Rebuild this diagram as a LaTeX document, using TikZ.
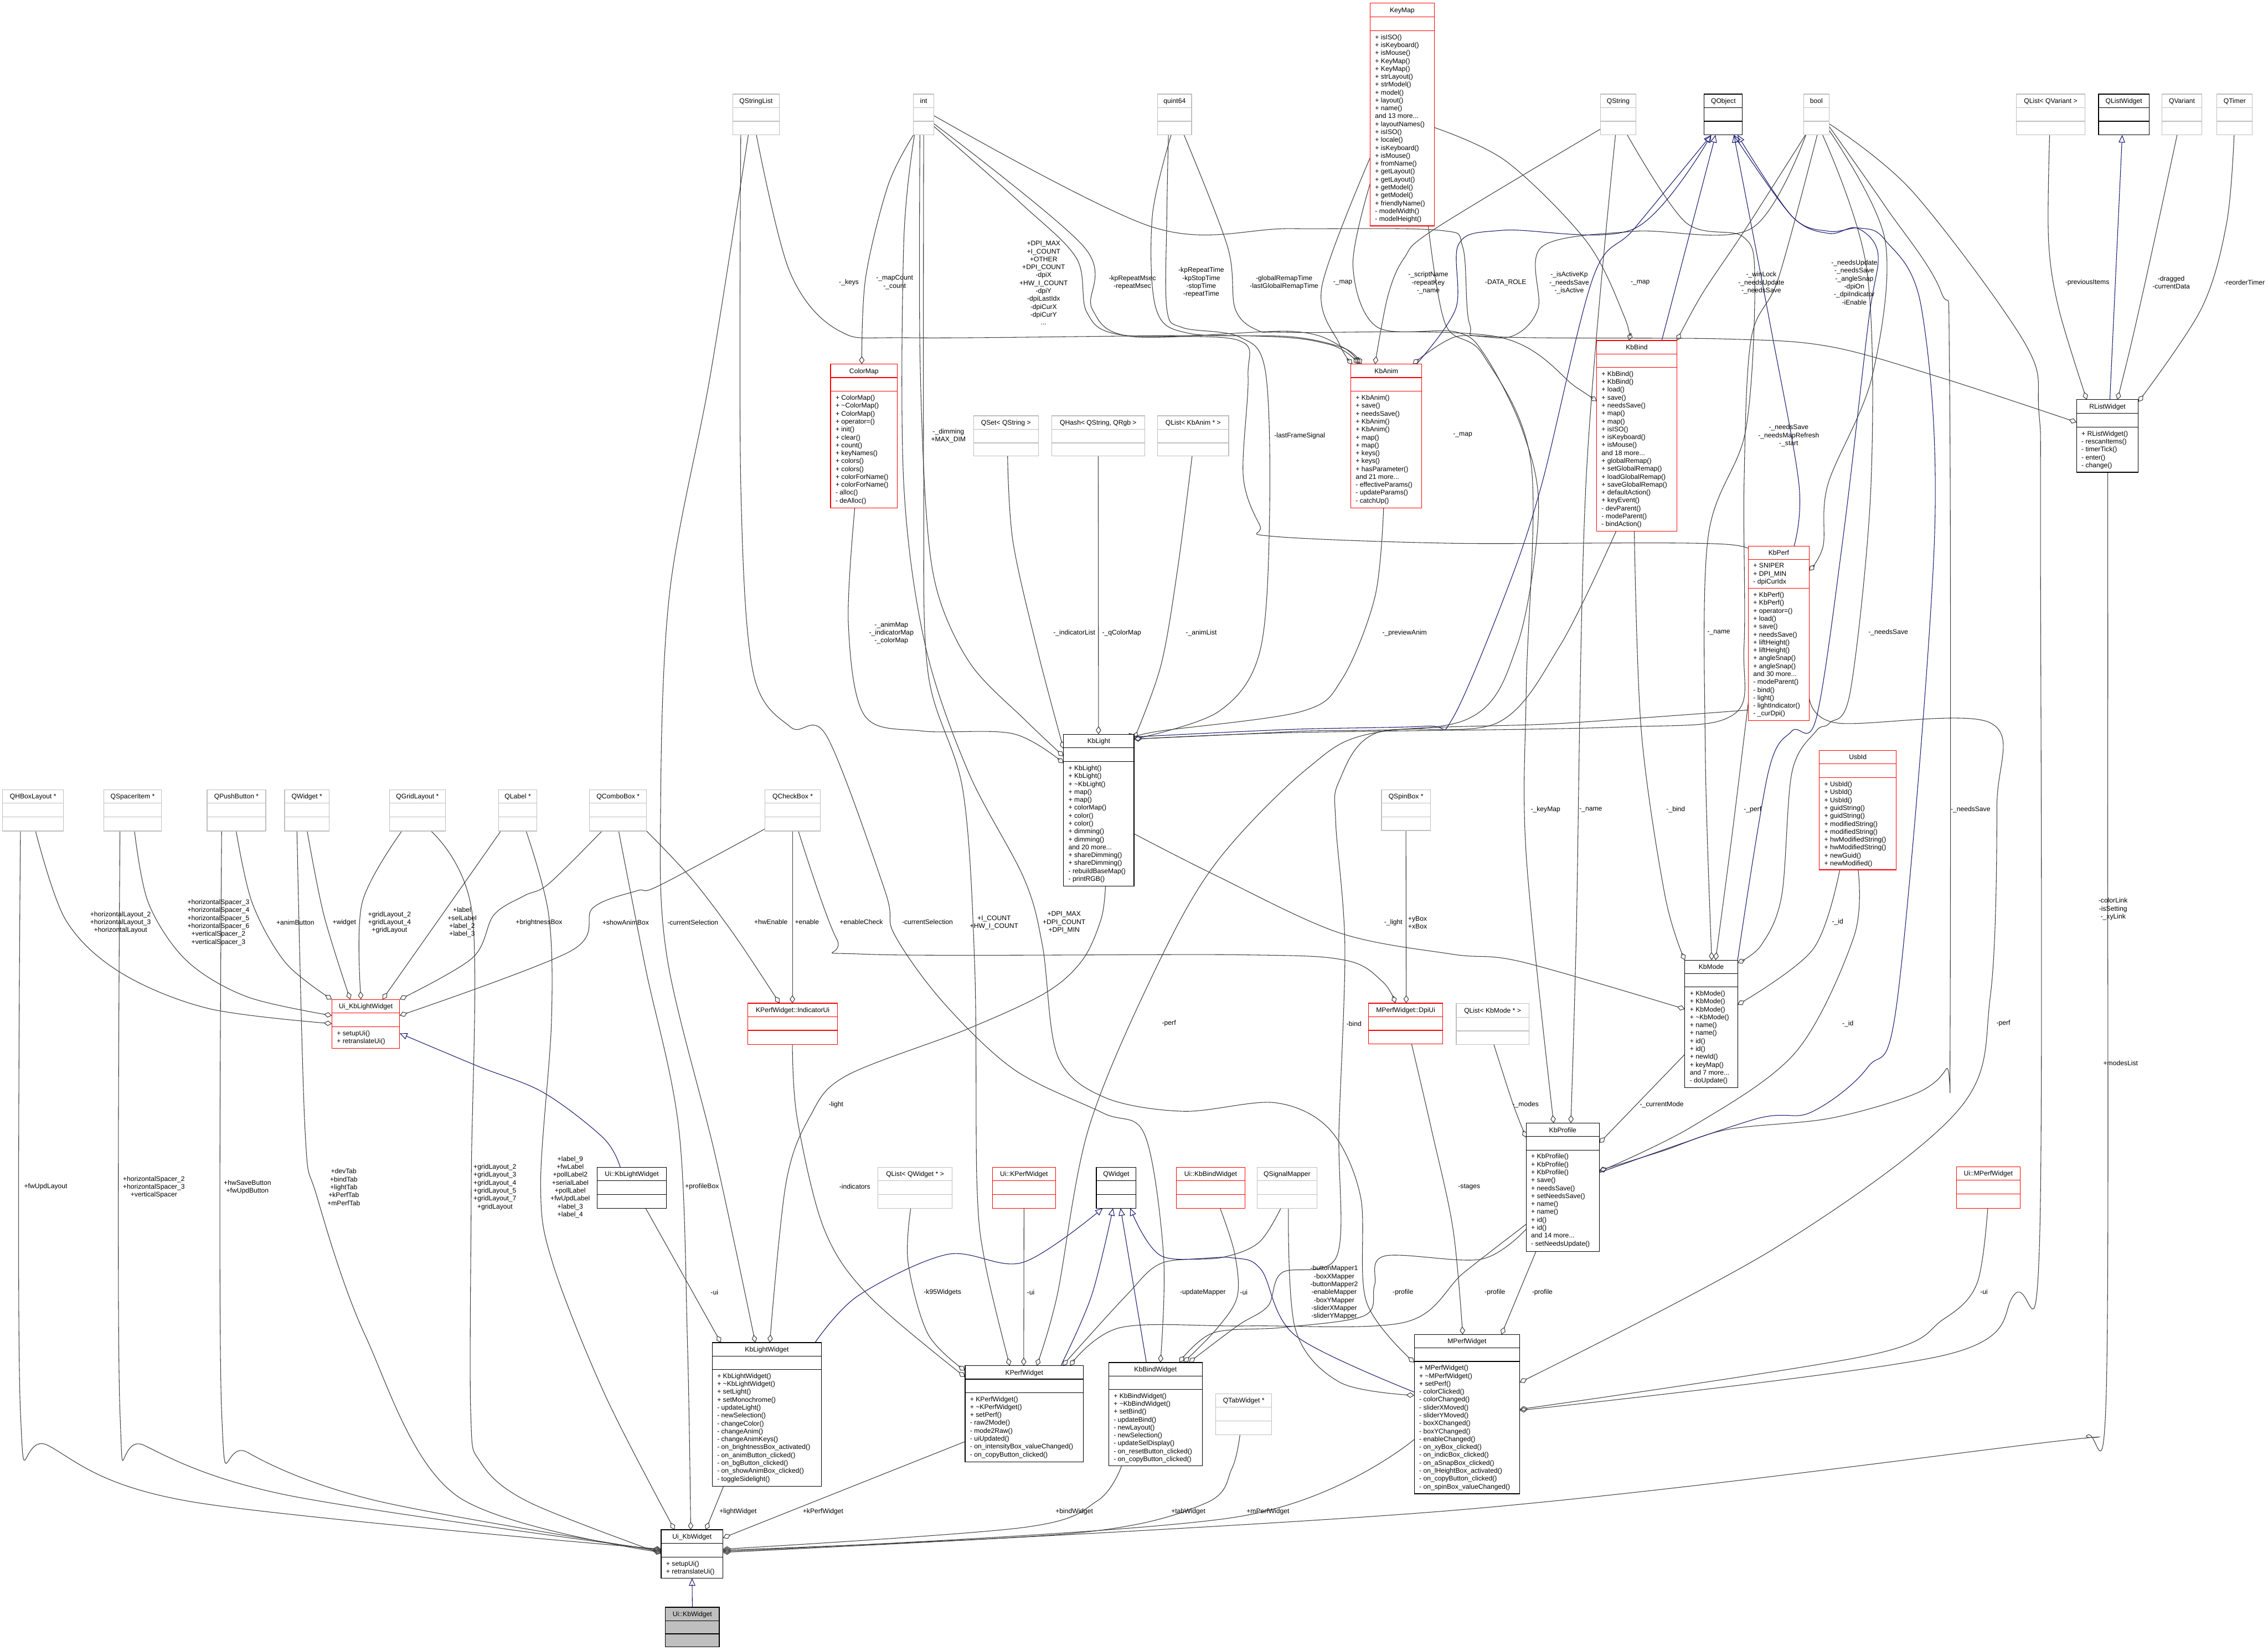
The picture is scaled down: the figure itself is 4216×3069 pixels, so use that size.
\documentclass[tikz,border=0pt]{standalone}
\usepackage{fontspec}
\setmainfont{Liberation Sans}
\usetikzlibrary{arrows.meta,calc}
\definecolor{edgec}{HTML}{404040}
\definecolor{navy}{HTML}{191970}
\definecolor{boxred}{HTML}{FF0000}
\definecolor{boxgray}{HTML}{BFBFBF}
\newcommand\umlfs{\fontsize{12.5}{14.7}\selectfont}
\newcommand\tild{\textasciitilde}
\pgfdeclarelayer{bgl}
\pgfdeclarelayer{edgel}
\pgfsetlayers{bgl,edgel,main}
\tikzset{
  box/.style={draw, fill=white, inner sep=0pt, outer sep=0pt, line width=1.2pt},
  rbox/.style={box, draw=boxred}, rboxline/.style={draw=boxred, line width=1.2pt},
  gbox/.style={box, draw=boxgray}, gboxline/.style={draw=boxgray, line width=1.2pt},
  kbox/.style={box, draw=black}, kboxline/.style={draw=black, line width=1.2pt},
  sbox/.style={box, draw=black, fill=boxgray}, sboxline/.style={draw=black, line width=1.2pt},
  ttl/.style={anchor=base, inner sep=0pt, font=\umlfs},
  mem/.style={anchor=north west, align=left, inner sep=0pt, font=\umlfs},
  lab/.style={align=center, inner sep=0pt, font=\umlfs},
  aggline/.style={draw=edgec, line width=1.1pt, -{Diamond[open, length=15pt, width=10pt]}},
  inhline/.style={draw=navy, line width=1.1pt, -{Triangle[open, length=14pt, width=12pt]}},
}
\newcommand\umlbox[8]{%
  \node[#7, minimum width={#3-#2}, minimum height={#5-#4}, anchor=north west] (#1) at (#2,#4) {};
  \draw[#7line] (#2,#4+25) -- (#3,#4+25);
  \draw[#7line] (#2,#6) -- (#3,#6);
  \node[ttl] (#1-t) at ({(#2+#3)/2},#4+17) {#8};
}
\newcommand\members[4]{\node[mem] (#1) at (#2+9,#3+7) {#4};}
\newcommand\aggr[1]{\draw[aggline] plot[smooth, tension=0.55] coordinates {#1};}
\newcommand\inher[1]{\draw[inhline] plot[smooth, tension=0.55] coordinates {#1};}
\begin{document}
\begin{tikzpicture}[x=1pt, y=-1pt]
\useasboundingbox (0,0) rectangle (4216,3069);
\begin{pgfonlayer}{bgl}\fill[white] (0,0) rectangle (4216,3069);\end{pgfonlayer}

% ---------- boxes ----------
\umlbox{KeyMap}{2547}{2666}{6}{420}{57}{rbox}{KeyMap}
\members{KeyMap-m}{2547}{57}{+ isISO()\\+ isKeyboard()\\+ isMouse()\\+ KeyMap()\\+ KeyMap()\\+ strLayout()\\+ strModel()\\+ model()\\+ layout()\\+ name()\\and 13 more...\\+ layoutNames()\\+ isISO()\\+ locale()\\+ isKeyboard()\\+ isMouse()\\+ fromName()\\+ getLayout()\\+ getLayout()\\+ getModel()\\+ getModel()\\+ friendlyName()\\- modelWidth()\\- modelHeight()}

\umlbox{QStringList}{1362}{1449}{175}{251}{225.5}{gbox}{QStringList}
\umlbox{int}{1698}{1736}{175}{251}{225.5}{gbox}{int}
\umlbox{quint64}{2152}{2215}{175}{251}{225.5}{gbox}{quint64}
\umlbox{QString}{2975}{3041}{175}{251}{225.5}{gbox}{QString}
\umlbox{QObject}{3168}{3239}{175}{251}{225.5}{kbox}{QObject}
\umlbox{bool}{3353}{3400}{175}{251}{225.5}{gbox}{bool}
\umlbox{QListQVariant}{3748}{3876}{175}{251}{225.5}{gbox}{QList< QVariant >}
\umlbox{QListWidget}{3901}{3995}{175}{251}{225.5}{kbox}{QListWidget}
\umlbox{QVariant}{4019}{4093}{175}{251}{225.5}{gbox}{QVariant}
\umlbox{QTimer}{4121}{4187}{175}{251}{225.5}{gbox}{QTimer}

\umlbox{RListWidget}{3860}{3975}{743}{878}{794}{kbox}{RListWidget}
\members{RListWidget-m}{3860}{794}{+ RListWidget()\\- rescanItems()\\- timerTick()\\- enter()\\- change()}

\umlbox{ColorMap}{1544}{1668}{677}{944}{727.5}{rbox}{ColorMap}
\members{ColorMap-m}{1544}{727.5}{+ ColorMap()\\+ \tild ColorMap()\\+ ColorMap()\\+ operator=()\\+ init()\\+ clear()\\+ count()\\+ keyNames()\\+ colors()\\+ colors()\\+ colorForName()\\+ colorForName()\\- alloc()\\- deAlloc()}

\umlbox{QSet}{1810}{1930}{773}{848}{823.5}{gbox}{QSet< QString >}
\umlbox{QHash}{1955}{2128}{773}{848}{823.5}{gbox}{QHash< QString, QRgb >}
\umlbox{QListKbAnim}{2152}{2284}{773}{848}{823.5}{gbox}{QList< KbAnim * >}

\umlbox{KbAnim}{2511}{2643}{677}{944}{727.5}{rbox}{KbAnim}
\members{KbAnim-m}{2511}{727.5}{+ KbAnim()\\+ save()\\+ needsSave()\\+ KbAnim()\\+ KbAnim()\\+ map()\\+ map()\\+ keys()\\+ keys()\\+ hasParameter()\\and 21 more...\\- effectiveParams()\\- updateParams()\\- catchUp()}

\umlbox{KbBind}{2968}{3117}{633}{988}{683}{rbox}{KbBind}
\members{KbBind-m}{2968}{683}{+ KbBind()\\+ KbBind()\\+ load()\\+ save()\\+ needsSave()\\+ map()\\+ map()\\+ isISO()\\+ isKeyboard()\\+ isMouse()\\and 18 more...\\+ globalRemap()\\+ setGlobalRemap()\\+ loadGlobalRemap()\\+ saveGlobalRemap()\\+ defaultAction()\\+ keyEvent()\\- devParent()\\- modeParent()\\- bindAction()}

\umlbox{KbPerf}{3250}{3363}{1015}{1340}{1094}{rbox}{KbPerf}
\members{KbPerf-a}{3250}{1040}{+ SNIPER\\+ DPI\_MIN\\- dpiCurIdx}
\members{KbPerf-m}{3250}{1094}{+ KbPerf()\\+ KbPerf()\\+ operator=()\\+ load()\\+ save()\\+ needsSave()\\+ liftHeight()\\+ liftHeight()\\+ angleSnap()\\+ angleSnap()\\and 30 more...\\- modeParent()\\- bind()\\- light()\\- lightIndicator()\\- \_curDpi()}

\umlbox{UsbId}{3382}{3525}{1395}{1617}{1446}{rbox}{UsbId}
\members{UsbId-m}{3382}{1446}{+ UsbId()\\+ UsbId()\\+ UsbId()\\+ guidString()\\+ guidString()\\+ modifiedString()\\+ modifiedString()\\+ hwModifiedString()\\+ hwModifiedString()\\+ newGuid()\\+ newModified()}

\umlbox{KbLight}{1977}{2108}{1365}{1647}{1416}{kbox}{KbLight}
\members{KbLight-m}{1977}{1416}{+ KbLight()\\+ KbLight()\\+ \tild KbLight()\\+ map()\\+ map()\\+ colorMap()\\+ color()\\+ color()\\+ dimming()\\+ dimming()\\and 20 more...\\+ shareDimming()\\+ shareDimming()\\- rebuildBaseMap()\\- printRGB()}

\umlbox{KbMode}{3132}{3230}{1785}{2022}{1835}{kbox}{KbMode}
\members{KbMode-m}{3132}{1835}{+ KbMode()\\+ KbMode()\\+ KbMode()\\+ \tild KbMode()\\+ name()\\+ name()\\+ id()\\+ id()\\+ newId()\\+ keyMap()\\and 7 more...\\- doUpdate()}

\umlbox{QListKbMode}{2707}{2842}{1866}{1942}{1916.5}{gbox}{QList< KbMode * >}
\umlbox{QSpinBox}{2568}{2659}{1468}{1544}{1518.5}{gbox}{QSpinBox *}
\umlbox{DpiUi}{2544}{2682}{1865}{1941}{1915.5}{rbox}{MPerfWidget::DpiUi}
\umlbox{QCheckBox}{1422}{1525}{1468}{1545}{1518.5}{gbox}{QCheckBox *}
\umlbox{IndicatorUi}{1390}{1557}{1865}{1942}{1915.5}{rbox}{KPerfWidget::IndicatorUi}

\umlbox{QHBoxLayout}{5}{118}{1468}{1545}{1518.5}{gbox}{QHBoxLayout *}
\umlbox{QSpacerItem}{193}{300}{1468}{1545}{1518.5}{gbox}{QSpacerItem *}
\umlbox{QPushButton}{385}{494}{1468}{1545}{1518.5}{gbox}{QPushButton *}
\umlbox{QWidgetPtr}{529}{612}{1468}{1545}{1518.5}{gbox}{QWidget *}
\umlbox{QGridLayout}{724}{828}{1468}{1545}{1518.5}{gbox}{QGridLayout *}
\umlbox{QLabel}{927}{998}{1468}{1545}{1518.5}{gbox}{QLabel *}
\umlbox{QComboBox}{1096}{1202}{1468}{1545}{1518.5}{gbox}{QComboBox *}

\umlbox{UiKbLightWidget}{617}{743}{1858}{1949}{1909}{rbox}{Ui\_KbLightWidget}
\members{UiKbLightWidget-m}{617}{1909}{+ setupUi()\\+ retranslateUi()}

\umlbox{UiNsKbLightWidget}{1110}{1239}{2170}{2246}{2220.5}{kbox}{Ui::KbLightWidget}
\umlbox{QListQWidget}{1632}{1770}{2170}{2246}{2220.5}{gbox}{QList< QWidget * >}
\umlbox{UiNsKPerfWidget}{1845}{1962}{2170}{2246}{2220.5}{rbox}{Ui::KPerfWidget}
\umlbox{QWidget}{2038}{2112}{2170}{2246}{2220.5}{kbox}{QWidget}
\umlbox{UiNsKbBindWidget}{2187}{2314}{2170}{2246}{2220.5}{rbox}{Ui::KbBindWidget}
\umlbox{QSignalMapper}{2337}{2448}{2170}{2246}{2220.5}{gbox}{QSignalMapper}
\umlbox{UiNsMPerfWidget}{3637}{3755}{2169}{2246}{2219.5}{rbox}{Ui::MPerfWidget}

\umlbox{KbProfile}{2837}{2973}{2088}{2327}{2138}{kbox}{KbProfile}
\members{KbProfile-m}{2837}{2138}{+ KbProfile()\\+ KbProfile()\\+ KbProfile()\\+ save()\\+ needsSave()\\+ setNeedsSave()\\+ name()\\+ name()\\+ id()\\+ id()\\and 14 more...\\- setNeedsUpdate()}

\umlbox{KbLightWidget}{1324}{1527}{2496}{2763}{2546}{kbox}{KbLightWidget}
\members{KbLightWidget-m}{1324}{2546}{+ KbLightWidget()\\+ \tild KbLightWidget()\\+ setLight()\\+ setMonochrome()\\- updateLight()\\- newSelection()\\- changeColor()\\- changeAnim()\\- changeAnimKeys()\\- on\_brightnessBox\_activated()\\- on\_animButton\_clicked()\\- on\_bgButton\_clicked()\\- on\_showAnimBox\_clicked()\\- toggleSidelight()}

\umlbox{KPerfWidget}{1794}{2014}{2539}{2718}{2589}{kbox}{KPerfWidget}
\members{KPerfWidget-m}{1794}{2589}{+ KPerfWidget()\\+ \tild KPerfWidget()\\+ setPerf()\\- raw2Mode()\\- mode2Raw()\\- uiUpdated()\\- on\_intensityBox\_valueChanged()\\- on\_copyButton\_clicked()}

\umlbox{KbBindWidget}{2061}{2235}{2533}{2725}{2583}{kbox}{KbBindWidget}
\members{KbBindWidget-m}{2061}{2583}{+ KbBindWidget()\\+ \tild KbBindWidget()\\+ setBind()\\- updateBind()\\- newLayout()\\- newSelection()\\- updateSelDisplay()\\- on\_resetButton\_clicked()\\- on\_copyButton\_clicked()}

\umlbox{QTabWidget}{2260}{2364}{2591}{2667}{2641.5}{gbox}{QTabWidget *}

\umlbox{MPerfWidget}{2629}{2825}{2481}{2777}{2531}{kbox}{MPerfWidget}
\members{MPerfWidget-m}{2629}{2531}{+ MPerfWidget()\\+ \tild MPerfWidget()\\+ setPerf()\\- colorClicked()\\- colorChanged()\\- sliderXMoved()\\- sliderYMoved()\\- boxXChanged()\\- boxYChanged()\\- enableChanged()\\- on\_xyBox\_clicked()\\- on\_indicBox\_clicked()\\- on\_aSnapBox\_clicked()\\- on\_lHeightBox\_activated()\\- on\_copyButton\_clicked()\\- on\_spinBox\_valueChanged()}

\umlbox{UiKbWidget}{1229}{1344}{2844}{2934}{2895}{kbox}{Ui\_KbWidget}
\members{UiKbWidget-m}{1229}{2895}{+ setupUi()\\+ retranslateUi()}
\umlbox{UiNsKbWidget}{1237}{1337}{2988}{3062}{3037.5}{sbox}{Ui::KbWidget}

% ---------- edges ----------
\begin{pgfonlayer}{edgel}
% Ui_KbLightWidget
\aggr{($(QHBoxLayout.north west)+(61,77)$) (122,1710) (224,1808) (388,1875) ($(UiKbLightWidget.north west)+(0,45)$)}
\aggr{($(QSpacerItem.north west)+(57,77)$) (276,1679) (347,1786) (459,1853) ($(UiKbLightWidget.north west)+(0,30)$)}
\aggr{($(QPushButton.north west)+(54,77)$) (469,1679) (531,1790) (UiKbLightWidget.north west)}
\aggr{($(QWidgetPtr.north west)+(42,77)$) (602,1701) ($(UiKbLightWidget.north west)+(34,0)$)}
\aggr{($(QGridLayout.north west)+(23,77)$) (673,1679) ($(UiKbLightWidget.north west)+(54,0)$)}
\aggr{($(QLabel.north west)+(4,77)$) (837,1679) ($(UiKbLightWidget.north west)+(94,0)$)}
\aggr{($(QComboBox.north west)+(23,77)$) (1020,1643) (975,1665) (918,1701) (878,1781) (UiKbLightWidget.north east)}
\aggr{($(QCheckBox.north west)+(0,73)$) (1224,1647) (1184,1656) (1102,1688) (1061,1768) ($(UiKbLightWidget.north east)+(0,30)$)}
\inher{($(UiNsKbLightWidget.north west)+(43,0)$) (1122,2116) (1010,2031) (888,1982) ($(UiKbLightWidget.north east)+(0,63)$)}
% IndicatorUi / DpiUi
\aggr{(QComboBox.south east) (1286,1634) (1367,1741) ($(IndicatorUi.north west)+(59,0)$)}
\aggr{($(QCheckBox.north west)+(51,77)$) ($(IndicatorUi.north west)+(83,0)$)}
\aggr{($(QCheckBox.north west)+(62,77)$) (1555,1745) (1610,1774) (2300,1775) (2500,1785) (2570,1825) ($(DpiUi.north west)+(50,0)$)}
\aggr{(QSpinBox.south) ($(DpiUi.north west)+(70,0)$)}
% KbLightWidget
\aggr{($(UiNsKbLightWidget.north west)+(90,76)$) (1264,2360) ($(KbLightWidget.north west)+(16,0)$)}
\aggr{($(QStringList.north west)+(29,76)$) (1320,700) (1245,1100) (1228,1500) (1240,1780) (1330,2150) ($(KbLightWidget.north west)+(80,0)$)}
\aggr{($(KbLight.north west)+(78,282)$) (2047,1708) (2012,1785) (1943,1846) (1796,1914) (1573,2000) (1506,2075) (1461,2200) ($(KbLightWidget.north west)+(107,0)$)}
\inher{($(KbLightWidget.north west)+(191,0)$) (1595,2409) (1761,2332) (1901,2347) ($(QWidget.north west)+(12,76)$)}
% Ui_KbWidget
\aggr{($(QHBoxLayout.north west)+(33,77)$) (38,2625) (89,2687) (357,2792) ($(UiKbWidget.north west)+(0,36)$)}
\aggr{($(QSpacerItem.north west)+(30,77)$) (223,2625) (268,2687) (536,2780) ($(UiKbWidget.north west)+(0,38)$)}
\aggr{($(QPushButton.north west)+(27,77)$) (412,2625) (460,2700) (700,2790) ($(UiKbWidget.north west)+(0,40)$)}
\aggr{($(QWidgetPtr.north west)+(23,77)$) (567,2100) (589,2224) (679,2483) (848,2780) ($(UiKbWidget.north west)+(0,42)$)}
\aggr{($(QGridLayout.north west)+(77,77)$) (878,1701) (876,2200) (875,2625) (893,2718) (982,2792) ($(UiKbWidget.north west)+(0,44)$)}
\aggr{($(QLabel.north west)+(51,77)$) (1020,1701) (1025,1902) (1005,2200) (1027,2347) (1125,2594) ($(UiKbWidget.north west)+(25,0)$)}
\aggr{($(QComboBox.north west)+(54,77)$) (1200,1800) (1262,2100) (1278,2500) ($(UiKbWidget.north west)+(55,0)$)}
\aggr{($(KbLightWidget.north west)+(21,267)$) ($(UiKbWidget.north west)+(83,0)$)}
\aggr{($(KPerfWidget.north west)+(0,141)$) ($(UiKbWidget.north east)+(0,15)$)}
\aggr{($(KbBindWidget.north west)+(24,192)$) (2040,2790) (1900,2840) ($(UiKbWidget.north east)+(0,36)$)}
\aggr{($(QTabWidget.north west)+(45,76)$) (2290,2730) (2240,2795) (2000,2850) ($(UiKbWidget.north east)+(0,38)$)}
\aggr{($(MPerfWidget.north west)+(0,195)$) (2300,2820) ($(UiKbWidget.north east)+(0,40)$)}
\aggr{($(RListWidget.north west)+(58,135)$) (3918,1500) (3915,2600) (3880,2668) (3800,2682) (2700,2808) ($(UiKbWidget.north east)+(0,42)$)}
\inher{(UiNsKbWidget.north) (UiKbWidget.south)}
% KPerfWidget
\aggr{($(QListQWidget.north west)+(61,76)$) (1688,2347) (1725,2480) ($(KPerfWidget.north west)+(0,9)$)}
\aggr{($(IndicatorUi.north west)+(83,77)$) (1482,2080) (1532,2285) (1615,2409) ($(KPerfWidget.north west)+(0,21)$)}
\aggr{(UiNsKPerfWidget.south) ($(KPerfWidget.north west)+(109,0)$)}
\aggr{($(int.north west)+(19,76)$) (1717,900) (1725,1250) (1790,1470) (1812,1800) (1816,2200) (1831,2347) ($(KPerfWidget.north west)+(83,0)$)}
\aggr{($(KbPerf.north west)+(0,305)$) (2900,1345) (2563,1361) (2431,1428) (2259,1606) (2144,1810) (2023,2100) (1965,2409) ($(KPerfWidget.north west)+(133,0)$)}
\aggr{($(QSignalMapper.north west)+(44,76)$) (2340,2310) (2270,2338) (2160,2348) (2093,2409) ($(KPerfWidget.north west)+(181,0)$)}
\aggr{($(KbProfile.north west)+(0,188)$) (2721,2366) (2612,2458) (2319,2465) (2083,2468) ($(KPerfWidget.north west)+(195,0)$)}
\inher{($(KPerfWidget.north west)+(178,0)$) (2029,2409) ($(QWidget.north west)+(31,76)$)}
% KbBindWidget
\aggr{($(QStringList.north west)+(15,76)$) (1377,900) (1400,1250) (1470,1352) (1537,1369) (1645,1656) (1662,1736) (1752,1862) (1886,1989) (2050,2069) (2128,2110) (2163,2335) ($(KbBindWidget.north west)+(96,0)$)}
\aggr{($(KbBind.north west)+(36,355)$) (2900,1200) (2783,1344) (2560,1362) (2489,1453) (2483,1530) (2500,1760) (2489,2100) (2485,2335) (2383,2366) (2357,2428) (2300,2465) ($(KbBindWidget.north west)+(149,0)$)}
\aggr{($(UiNsKbBindWidget.north west)+(81,76)$) (2295,2330) (2300,2410) (2262,2470) ($(KbBindWidget.north west)+(139,0)$)}
\aggr{($(KbProfile.north west)+(0,197)$) (2753,2341) (2574,2335) (2555,2390) (2536,2446) (2383,2468) (2255,2478) ($(KbBindWidget.north west)+(131,0)$)}
\inher{($(KbBindWidget.north west)+(70,0)$) ($(QWidget.north west)+(45,76)$)}
% MPerfWidget
\inher{($(MPerfWidget.north west)+(0,107)$) (2408,2483) (2344,2360) (2287,2338) (2159,2335) ($(QWidget.north west)+(63,76)$)}
\aggr{($(DpiUi.north west)+(80,76)$) (2661,2100) (2701,2285) ($(MPerfWidget.north west)+(90,0)$)}
\aggr{($(QSignalMapper.north west)+(58,76)$) (2408,2471) (2491,2570) ($(MPerfWidget.north west)+(0,113)$)}
\aggr{($(int.north west)+(2,76)$) (1680,450) (1680,900) (1720,1200) (1800,1435) (1903,1632) (1938,1759) (1966,1963) (2053,2040) (2200,2066) (2370,2050) (2472,2100) (2529,2224) (2540,2420) ($(MPerfWidget.north west)+(0,52)$)}
\aggr{($(KbProfile.north west)+(18,239)$) ($(MPerfWidget.north west)+(162,0)$)}
\aggr{($(KbPerf.north east)+(0,279)$) (3414,1344) (3700,1344) (3712,1500) (3700,1850) (3640,2064) (3300,2320) ($(MPerfWidget.north east)+(0,89)$)}
\aggr{($(UiNsMPerfWidget.north west)+(58,77)$) (3675,2386) (3612,2453) (3472,2520) ($(MPerfWidget.north east)+(0,139)$)}
\aggr{($(bool.north east)+(0,55)$) (3556,357) (3764,638) (3790,765) (3793,1000) (3791,2319) (3745,2406) (3612,2520) ($(MPerfWidget.north east)+(0,141)$)}
% KbProfile
\aggr{($(KbMode.north west)+(0,175)$) ($(KbProfile.north east)+(0,37)$)}
\aggr{($(QListKbMode.north west)+(70,76)$) (2812,2051) ($(KbProfile.north west)+(0,27)$)}
\aggr{($(UsbId.north west)+(72,222)$) (3446,1742) (3338,1956) (3146,2094) ($(KbProfile.north east)+(0,90)$)}
\aggr{($(KeyMap.north west)+(108,414)$) (2687,603) (2757,660) (2846,861) (2837,1283) (2837,1589) ($(KbProfile.north west)+(51,0)$)}
\aggr{($(QString.north west)+(28,76)$) (2948,900) (2930,1742) ($(KbProfile.north west)+(83,0)$)}
\aggr{($(bool.north east)+(0,60)$) (3504,383) (3608,542) (3624,702) (3625,1933) (3618,1987) (3561,2033) (3402,2079) (3210,2100) (3090,2140) ($(KbProfile.north east)+(0,88)$)}
\inher{($(KbProfile.north east)+(0,92)$) (3261,2081) (3366,2068) (3472,1984) (3528,1850) (3596,1000) (3572,574) (3504,446) (3457,424) (3400,430) (3331,402) ($(QObject.north west)+(62,76)$)}
% KbMode
\aggr{($(KbLight.north east)+(0,185)$) (2259,1627) (2489,1734) (2700,1774) (2828,1788) ($(KbMode.north west)+(0,91)$)}
\aggr{($(KbBind.north west)+(70,355)$) (3051,1359) (3095,1665) (KbMode.north west)}
\aggr{($(QString.north west)+(50,76)$) (3133,413) (3240,440) (3262,520) (3245,800) (3175,1000) (3170,1400) ($(KbMode.north west)+(50,0)$)}
\aggr{($(KbPerf.north west)+(0,290)$) (3220,1550) ($(KbMode.north west)+(57,0)$)}
\aggr{($(bool.north west)+(35,76)$) (3470,500) (3478,900) (3440,1283) (3401,1344) (3376,1359) (3331,1436) (3312,1665) (3274,1757) ($(KbMode.north east)+(0,5)$)}
\aggr{($(UsbId.north west)+(38,222)$) (3370,1765) ($(KbMode.north east)+(0,83)$)}
\inher{(KbMode.north east) (3287,1436) (3331,1359) (3376,1336) (3426,1000) (3473,600) (3491,472) (3452,424) (3400,434) (3331,402) ($(QObject.north west)+(55,76)$)}
% KbPerf
\aggr{($(int.north east)+(0,60)$) (1900,380) (2001,480) (2020,580) (2080,622) (2300,632) (2320,700) (2311,885) (2342,977) (2365,997) (2700,1010) (3210,1012) ($(KbPerf.north west)+(0,34)$)}
\aggr{($(bool.north east)+(0,67)$) (3504,446) (3480,700) (3398,900) (3389,1015) ($(KbPerf.north east)+(0,46)$)}
\inher{($(KbPerf.north west)+(85,0)$) (3344,900) (3290,600) ($(QObject.north west)+(55,76)$)}
% KbLight
\aggr{($(QSet.north west)+(63,75)$) (1883,1007) (1929,1211) ($(KbLight.north west)+(0,27)$)}
\aggr{($(int.north west)+(12,76)$) (1710,650) (1722,956) (1745,1109) (1806,1237) (1906,1339) ($(KbLight.north west)+(0,41)$)}
\aggr{($(ColorMap.north west)+(45,267)$) (1577,1160) (1607,1330) (1714,1359) (1883,1364) ($(KbLight.north west)+(0,54)$)}
\aggr{(QHash.south) ($(KbLight.north west)+(65,0)$)}
\aggr{($(QListKbAnim.north west)+(64,75)$) (2189,1058) (2158,1237) ($(KbLight.north east)+(0,9)$)}
\aggr{($(KbAnim.north west)+(61,267)$) (2556,1109) (2495,1262) (2418,1323) (2150,1360) ($(KbLight.north east)+(0,9)$)}
\aggr{($(quint64.north west)+(20,76)$) (2169,402) (2169,574) (2198,609) (2303,626) (2352,689) (2360,956) (2342,1211) (2265,1323) ($(KbLight.north east)+(0,9)$)}
\aggr{($(KeyMap.north west)+(0,335)$) (2515,494) (2560,608) (2706,617) (2760,660) (2830,800) (2860,950) (2820,1200) (2720,1340) (2400,1360) ($(KbLight.north east)+(0,9)$)}
\aggr{($(bool.north west)+(25,76)$) (3306,517) (3255,631) (3242,900) (3242,1200) (3220,1330) (3000,1352) (2400,1362) ($(KbLight.north east)+(0,9)$)}
\inher{($(KbLight.north east)+(0,5)$) (2400,1356) (2650,1350) (2700,1336) (2800,1100) (2866,900) (2961,517) (3038,425) ($(QObject.north west)+(13,76)$)}
% ColorMap
\aggr{(int.south west) (1651,344) (1609,517) ($(ColorMap.north west)+(58,0)$)}
% KbAnim
\aggr{($(QStringList.north west)+(44,76)$) (1468,505) (1560,615) (1700,628) (2300,624) (2470,640) ($(KbAnim.north west)+(14,0)$)}
\aggr{($(int.north east)+(0,55)$) (2015,459) (2030,574) (2107,626) (2400,616) (2495,645) ($(KbAnim.north west)+(17,0)$)}
\aggr{($(quint64.north west)+(25,76)$) (2142,402) (2149,574) (2212,620) (2400,626) (2500,648) ($(KbAnim.north west)+(20,0)$)}
\aggr{($(KeyMap.north west)+(0,287)$) (2457,534) (2490,640) ($(KbAnim.north west)+(3,0)$)}
\aggr{($(QString.north west)+(0,65)$) (2668,425) (2610,480) (2580,550) ($(KbAnim.north west)+(45,0)$)}
\aggr{($(bool.north west)+(4,76)$) (3255,425) (3038,430) (2866,459) (2859,574) (2808,626) (2706,626) ($(KbAnim.north west)+(115,0)$)}
\inher{($(KbAnim.north west)+(122,0)$) (2706,574) (2712,453) (2795,428) (3038,425) ($(QObject.north west)+(13,76)$)}
% KbBind
\aggr{($(quint64.north west)+(49,76)$) (2282,459) (2296,574) (2338,614) (2400,618) (2783,626) (2930,720) ($(KbBind.north west)+(0,113)$)}
\aggr{($(KeyMap.north east)+(0,231)$) (2800,300) (2950,450) (3020,590) ($(KbBind.north west)+(60,0)$)}
\aggr{($(bool.north west)+(3,76)$) (3242,430) (3165,545) (KbBind.north east)}
\inher{($(KbBind.north west)+(121,0)$) ($(QObject.north west)+(21,76)$)}
% RListWidget
\aggr{($(int.north east)+(0,40)$) (2142,422) (2400,425) (2674,428) (2719,459) (2732,603) (2780,626) (3200,630) (3400,644) (3608,702) ($(RListWidget.north west)+(0,42)$)}
\aggr{($(QListQVariant.north west)+(62,76)$) (3808,446) (3827,574) ($(RListWidget.north west)+(19,0)$)}
\aggr{($(QVariant.north west)+(28,76)$) (3998,478) (3962,638) ($(RListWidget.north west)+(76,0)$)}
\aggr{($(QTimer.north west)+(32,76)$) (4139,415) (4092,574) ($(RListWidget.north east)+(0,4)$)}
\inher{($(RListWidget.north west)+(62,0)$) ($(QListWidget.south)+(-3,0)$)}
\end{pgfonlayer}

% ---------- edge labels ----------
\node[lab] (lb1) at (1578,525) {-\_keys};
\node[lab] (lb2) at (1663,525) {-\_mapCount\\-\_count};
\node[lab] (lb3) at (1940,526) {+DPI\_MAX\\+I\_COUNT\\+OTHER\\+DPI\_COUNT\\-dpiX\\+HW\_I\_COUNT\\-dpiY\\-dpiLastIdx\\-dpiCurX\\-dpiCurY\\...};
\node[lab] (lb4) at (2105,525) {-kpRepeatMsec\\-repeatMsec};
\node[lab] (lb5) at (2233,525) {-kpRepeatTime\\-kpStopTime\\-stopTime\\-repeatTime};
\node[lab] (lb6) at (2387,525) {-globalRemapTime\\-lastGlobalRemapTime};
\node[lab] (lb7) at (2496,525) {-\_map};
\node[lab] (lb8) at (2655,526) {-\_scriptName\\-repeatKey\\-\_name};
\node[lab] (lb9) at (2799,525) {-DATA\_ROLE};
\node[lab] (lb10) at (2917,526) {-\_isActiveKp\\-\_needsSave\\-\_isActive};
\node[lab] (lb11) at (3049,525) {-\_map};
\node[lab] (lb12) at (3274,526) {-\_winLock\\-\_needsUpdate\\-\_needsSave};
\node[lab] (lb13) at (3447,525) {-\_needsUpdate\\-\_needsSave\\-\_angleSnap\\-dpiOn\\-\_dpiIndicator\\-iEnable};
\node[lab] (lb14) at (3880,525) {-previousItems};
\node[lab] (lb15) at (4036,525) {-dragged\\-currentData};
\node[lab] (lb16) at (4172,525) {-reorderTimer};
\node[lab] (lb17) at (1763,810) {-\_dimming\\+MAX\_DIM};
\node[lab] (lb18) at (2416,810) {-lastFrameSignal};
\node[lab] (lb19) at (2719,809) {-\_map};
\node[lab] (lb20) at (3325,810) {-\_needsSave\\-\_needsMapRefresh\\-\_start};
\node[lab] (lb21) at (1657,1177) {-\_animMap\\-\_indicatorMap\\-\_colorMap};
\node[lab] (lb22) at (1997,1177) {-\_indicatorList};
\node[lab] (lb23) at (2085,1177) {-\_qColorMap};
\node[lab] (lb24) at (2233,1177) {-\_animList};
\node[lab] (lb25) at (2611,1177) {-\_previewAnim};
\node[lab] (lb26) at (3195,1176) {-\_name};
\node[lab] (lb27) at (3510,1176) {-\_needsSave};
\node[lab] (lb28) at (2873,1505) {-\_keyMap};
\node[lab] (lb29) at (2957,1505) {-\_name};
\node[lab] (lb30) at (3115,1505) {-\_bind};
\node[lab] (lb31) at (3258,1505) {-\_perf};
\node[lab] (lb32) at (3663,1505) {-\_needsSave};
\node[lab] (lb33) at (224,1715) {+horizontalLayout\_2\\+horizontalLayout\_3\\+horizontalLayout};
\node[lab] (lb34) at (406,1715) {+horizontalSpacer\_3\\+horizontalSpacer\_4\\+horizontalSpacer\_5\\+horizontalSpacer\_6\\+verticalSpacer\_2\\+verticalSpacer\_3};
\node[lab] (lb35) at (549,1715) {+animButton};
\node[lab] (lb36) at (640,1715) {+widget};
\node[lab] (lb37) at (724,1715) {+gridLayout\_2\\+gridLayout\_4\\+gridLayout};
\node[lab] (lb38) at (859,1715) {+label\\+selLabel\\+label\_2\\+label\_3};
\node[lab] (lb39) at (1002,1715) {+brightnessBox};
\node[lab] (lb40) at (1163,1715) {+showAnimBox};
\node[lab] (lb41) at (1288,1715) {-currentSelection};
\node[lab] (lb42) at (1433,1714) {+hwEnable};
\node[lab] (lb43) at (1500,1714) {+enable};
\node[lab] (lb44) at (1601,1714) {+enableCheck};
\node[lab] (lb45) at (1724,1714) {-currentSelection};
\node[lab] (lb46) at (1848,1715) {+I\_COUNT\\+HW\_I\_COUNT};
\node[lab] (lb47) at (1978,1715) {+DPI\_MAX\\+DPI\_COUNT\\+DPI\_MIN};
\node[lab] (lb48) at (2590,1715) {-\_light};
\node[lab] (lb49) at (2635,1715) {+yBox\\+xBox};
\node[lab] (lb50) at (3416,1714) {-\_id};
\node[lab] (lb51) at (3928,1690) {-colorLink\\-isSetting\\-\_xyLink};
\node[lab] (lb52) at (2173,1903) {-perf};
\node[lab] (lb53) at (2517,1903) {-bind};
\node[lab] (lb54) at (3435,1903) {-\_id};
\node[lab] (lb55) at (3724,1902) {-perf};
\node[lab] (lb56) at (3942,1976) {+modesList};
\node[lab] (lb57) at (1554,2054) {-light};
\node[lab] (lb58) at (2836,2054) {-\_modes};
\node[lab] (lb59) at (3089,2054) {-\_currentMode};
\node[lab] (lb60) at (85,2206) {+fwUpdLayout};
\node[lab] (lb61) at (286,2207) {+horizontalSpacer\_2\\+horizontalSpacer\_3\\+verticalSpacer};
\node[lab] (lb62) at (460,2207) {+hwSaveButton\\+fwUpdButton};
\node[lab] (lb63) at (639,2207) {+devTab\\+bindTab\\+lightTab\\+kPerfTab\\+mPerfTab};
\node[lab] (lb64) at (920,2207) {+gridLayout\_2\\+gridLayout\_3\\+gridLayout\_4\\+gridLayout\_5\\+gridLayout\_7\\+gridLayout};
\node[lab] (lb65) at (1060,2207) {+label\_9\\+fwLabel\\+pollLabel2\\+serialLabel\\+pollLabel\\+fwUpdLabel\\+label\_3\\+label\_4};
\node[lab] (lb66) at (1305,2206) {+profileBox};
\node[lab] (lb67) at (1589,2206) {-indicators};
\node[lab] (lb68) at (2731,2207) {-stages};
\node[lab] (lb69) at (1328,2403) {-ui};
\node[lab] (lb70) at (1752,2403) {-k95Widgets};
\node[lab] (lb71) at (1916,2403) {-ui};
\node[lab] (lb72) at (2236,2403) {-updateMapper};
\node[lab] (lb73) at (2312,2403) {-ui};
\node[lab] (lb74) at (2480,2403) {-buttonMapper1\\-boxXMapper\\-buttonMapper2\\-enableMapper\\-boxYMapper\\-sliderXMapper\\-sliderYMapper};
\node[lab] (lb75) at (2608,2403) {-profile};
\node[lab] (lb76) at (2779,2403) {-profile};
\node[lab] (lb77) at (2867,2403) {-profile};
\node[lab] (lb78) at (3688,2402) {-ui};
\node[lab] (lb79) at (1372,2810) {+lightWidget};
\node[lab] (lb80) at (1530,2810) {+kPerfWidget};
\node[lab] (lb81) at (1997,2810) {+bindWidget};
\node[lab] (lb82) at (2209,2810) {+tabWidget};
\node[lab] (lb83) at (2357,2810) {+mPerfWidget};
\end{tikzpicture}
\end{document}
